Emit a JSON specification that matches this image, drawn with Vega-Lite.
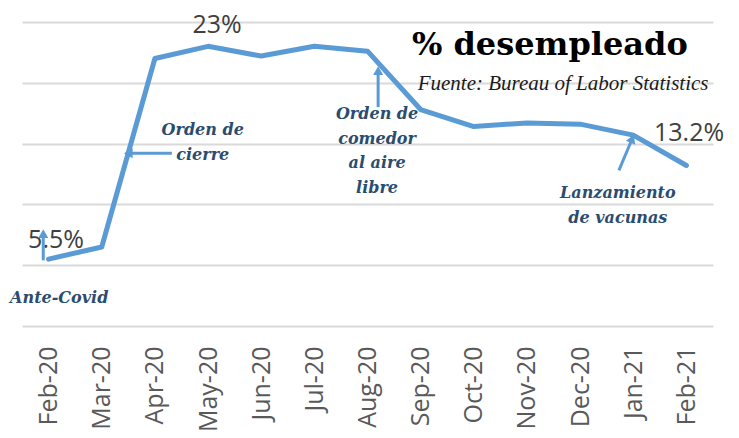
{
  "$schema": "https://vega.github.io/schema/vega-lite/v6.json",
  "width": 691,
  "height": 304,
  "autosize": {"type": "none"},
  "padding": {"left": 22, "top": 22, "right": 26, "bottom": 112},
  "background": "white",
  "config": {"view": {"stroke": null}},
  "datasets": {
    "rate": [
      {"i": 0, "month": "Feb-20", "rate": 5.5},
      {"i": 1, "month": "Mar-20", "rate": 6.5},
      {"i": 2, "month": "Apr-20", "rate": 22.0},
      {"i": 3, "month": "May-20", "rate": 23.0},
      {"i": 4, "month": "Jun-20", "rate": 22.2},
      {"i": 5, "month": "Jul-20", "rate": 23.0},
      {"i": 6, "month": "Aug-20", "rate": 22.6},
      {"i": 7, "month": "Sep-20", "rate": 17.8},
      {"i": 8, "month": "Oct-20", "rate": 16.4},
      {"i": 9, "month": "Nov-20", "rate": 16.7},
      {"i": 10, "month": "Dec-20", "rate": 16.6},
      {"i": 11, "month": "Jan-21", "rate": 15.7},
      {"i": 12, "month": "Feb-21", "rate": 13.2}
    ],
    "valueLabels": [
      {"x": 3.17, "y": 24.1, "label": "23%"},
      {"x": 0.14, "y": 6.4, "label": "5.5%"},
      {"x": 12.05, "y": 15.2, "label": "13.2%"}
    ],
    "notes": [
      {"x": 2.9, "y": 15.7, "label": "Orden de\ncierre"},
      {"x": 6.18, "y": 17.0, "label": "Orden de\ncomedor\nal aire\nlibre"},
      {"x": 10.71, "y": 10.5, "label": "Lanzamiento\nde vacunas"},
      {"x": 0.2, "y": 1.9, "label": "Ante-Covid"}
    ],
    "arrows": [
      {"x": 2.32, "y": 14.2, "x2": 1.5, "y2": 14.2},
      {"x": 6.2, "y": 18.0, "x2": 6.2, "y2": 21.0},
      {"x": 10.73, "y": 12.8, "x2": 10.98, "y2": 15.4},
      {"x": -0.1, "y": 5.4, "x2": -0.1, "y2": 7.6}
    ]
  },
  "layer": [
    {
      "data": {"name": "rate"},
      "mark": {"type": "line", "color": "#5B9BD5", "strokeWidth": 5, "strokeJoin": "round", "strokeCap": "round"},
      "encoding": {
        "x": {
          "field": "i", "type": "quantitative",
          "scale": {"domain": [-0.5, 12.5], "nice": false, "zero": false},
          "axis": {
            "values": [0, 1, 2, 3, 4, 5, 6, 7, 8, 9, 10, 11, 12],
            "labelExpr": "['Feb-20','Mar-20','Apr-20','May-20','Jun-20','Jul-20','Aug-20','Sep-20','Oct-20','Nov-20','Dec-20','Jan-21','Feb-21'][datum.value]",
            "labelAngle": -90,
            "labelFont": "Open Sans",
            "labelFontSize": 25,
            "labelColor": "#595959",
            "labelPadding": 20,
            "labelFlush": false,
            "labelOverlap": false,
            "labelBound": false,
            "ticks": false,
            "domain": false,
            "grid": false,
            "title": null
          }
        },
        "y": {
          "field": "rate", "type": "quantitative",
          "scale": {"domain": [0, 25], "nice": false},
          "axis": {
            "values": [0, 5, 10, 15, 20, 25],
            "labels": false,
            "ticks": false,
            "domain": false,
            "grid": true,
            "gridColor": "#d9d9d9",
            "gridWidth": 2,
            "title": null
          }
        }
      }
    },
    {
      "data": {"name": "valueLabels"},
      "mark": {"type": "text", "font": "Open Sans", "fontSize": 25, "color": "#404040", "align": "center", "baseline": "alphabetic"},
      "encoding": {
        "x": {"field": "x", "type": "quantitative"},
        "y": {"field": "y", "type": "quantitative"},
        "text": {"field": "label"}
      }
    },
    {
      "data": {"name": "notes"},
      "mark": {"type": "text", "font": "DejaVu Serif", "fontSize": 16, "fontStyle": "italic", "fontWeight": "bold", "color": "#2b4c6f", "align": "center", "baseline": "alphabetic", "lineBreak": "\n", "lineHeight": 24.5},
      "encoding": {
        "x": {"field": "x", "type": "quantitative"},
        "y": {"field": "y", "type": "quantitative"},
        "text": {"field": "label"}
      }
    },
    {
      "data": {"values": [{"x": 9.43, "y": 22.3, "label": "% desempleado"}]},
      "mark": {"type": "text", "font": "DejaVu Serif", "fontSize": 32, "fontWeight": "bold", "color": "#000000", "align": "center", "baseline": "alphabetic"},
      "encoding": {
        "x": {"field": "x", "type": "quantitative"},
        "y": {"field": "y", "type": "quantitative"},
        "text": {"field": "label"}
      }
    },
    {
      "data": {"values": [{"x": 9.68, "y": 19.4, "label": "Fuente: Bureau of Labor Statistics"}]},
      "mark": {"type": "text", "font": "Liberation Serif", "fontSize": 21, "fontStyle": "italic", "color": "#1a1a1a", "align": "center", "baseline": "alphabetic"},
      "encoding": {
        "x": {"field": "x", "type": "quantitative"},
        "y": {"field": "y", "type": "quantitative"},
        "text": {"field": "label"}
      }
    },
    {
      "data": {"name": "arrows"},
      "mark": {"type": "rule", "color": "#5B9BD5", "strokeWidth": 3},
      "encoding": {
        "x": {"field": "x", "type": "quantitative"},
        "y": {"field": "y", "type": "quantitative"},
        "x2": {"field": "x2"},
        "y2": {"field": "y2"}
      }
    },
    {
      "data": {"name": "arrows"},
      "transform": [
        {"calculate": "atan2((datum.x2 - datum.x) * 53.15, (datum.y2 - datum.y) * 12.16) * 180 / PI", "as": "angle"}
      ],
      "mark": {"type": "point", "shape": "triangle-up", "filled": true, "color": "#5B9BD5", "opacity": 1, "size": 100},
      "encoding": {
        "x": {"field": "x2", "type": "quantitative"},
        "y": {"field": "y2", "type": "quantitative"},
        "angle": {"field": "angle", "type": "quantitative", "scale": null}
      }
    }
  ]
}
